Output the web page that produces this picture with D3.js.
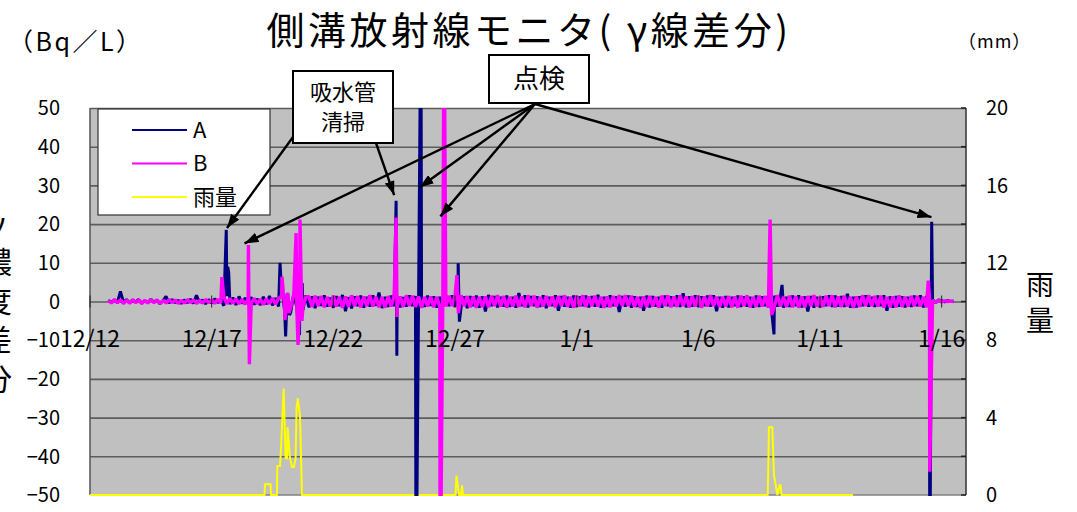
<!DOCTYPE html>
<html>
<head>
<meta charset="utf-8">
<script src="https://cdn.jsdelivr.net/npm/d3@7"></script>
<style>
  body { margin: 0; background: #fff; }
  svg text { font-family: "Noto Sans CJK JP", "Liberation Sans", sans-serif; fill: #000; }
</style>
</head>
<body>
<svg id="chart" width="1077" height="512"></svg>
<script>
// time in days from 12/12 00:00, readings every 3 hours from 12/12 18:00
var startDay = 0.75;
var stepDay = 0.125;

var valuesA = [
  0.3, -0.2,
  0.4, -0.3, 2.6, -0.2, 0.5, -0.4, 0.3, -0.1,
  0.5, -0.5, 0.2, -0.3, 0.6, -0.2, 0.4, -0.6,
  0.2, 1.3, -0.4, 0.5, -0.3, 0.3, -0.5, 0.4,
  -0.3, 0.6, -0.5, 1.6, -0.2, 0.4, -0.6, 0.5,
  -0.4, 0.7, -0.3, 0.6, -1.1, 1.4, -0.7, 1.0,
  -0.9, 1.3, -0.5, 0.9, -0.6, 1.1, -0.8, 0.7,
  -0.9, 1.2, -0.7, 1.4, -1.0, 0.9, -1.3, 2.2,
  -2.6, 1.9, -2.8, 2.1, -1.6, 1.3, -2.2, 1.6,
  -1.5, 1.3, -1.7, 1.2, -1.1, 1.6, -1.3, 1.0,
  -1.6, 1.4, -1.2, 1.7, -2.5, 1.1, -1.8, 1.3,
  -1.2, 1.5, -1.6, 1.2, -1.3, 1.6, -1.1, 2.3,
  -1.7, 1.2, -1.4, 1.5, -1.2, 1.3, -1.5, 1.1,
  -1.3, 1.6, -1.2, 1.4, -1.5, 1.2, -1.4, 1.5,
  -1.1, 1.3, -1.6, 1.2, -1.3, 1.5, -1.2, 1.6,
  -1.4, 1.2, -1.5, 1.3, -1.7, 1.4, -1.2, 1.5,
  -1.6, 1.3, -2.6, 1.7, -1.2, 1.4, -1.5, 1.2,
  -1.3, 1.5, -1.4, 1.2, -1.6, 2.2, -1.2, 1.6,
  -1.5, 1.4, -1.2, 1.3, -1.4, 1.6, -1.7, 1.2,
  -1.2, 1.6, -2.4, 1.4, -1.3, 1.2, -1.6, 1.5,
  -1.4, 1.3, -1.2, 1.5, -1.5, 1.4, -1.3, 1.7,
  -1.6, 1.2, -1.4, 1.6, -1.2, 1.3, -2.7, 1.4,
  -1.3, 1.5, -1.6, 1.3, -1.4, 1.2, -2.4, 1.5,
  -1.5, 1.4, -1.3, 1.2, -1.6, 1.5, -1.2, 1.3,
  -1.2, 1.6, -1.4, 2.1, -1.5, 1.3, -1.3, 1.6,
  -1.4, 1.3, -1.2, 1.5, -1.3, 1.6, -2.5, 1.2,
  -1.6, 1.4, -1.5, 1.2, -1.2, 1.5, -1.4, 1.3,
  -1.3, 1.2, -1.6, 1.5, -1.4, 1.3, -1.2, 1.4,
  -1.8, 1.5, -1.3, 1.4, -1.6, 1.2, -1.4, 1.5,
  -1.2, 1.6, -1.5, 1.3, -2.6, 1.4, -1.6, 1.2,
  -1.5, 1.3, -1.2, 1.6, -1.4, 1.5, -1.3, 1.4,
  -1.4, 2.0, -1.6, 1.2, -1.5, 1.3, -1.2, 1.6,
  -1.3, 1.2, -1.4, 1.5, -1.2, 1.6, -2.4, 1.3,
  -1.6, 1.4, -1.3, 1.3, -1.5, 1.2, -1.4, 1.5,
  -1.2, 1.6, -1.5, 1.4, -1.3, 0.5, -0.3, 0.4,
  0.2, -0.1, 0.2, 0.0, 0.1
];

var valuesB = [
  0.3, -0.4,
  0.5, -0.3, 0.4, -0.5, 0.3, -0.4, 0.5, -0.3,
  0.4, -0.5, 0.3, -0.4, 0.5, -0.3, 0.4, -0.5,
  0.3, -0.4, 0.5, -0.3, 0.4, -0.5, 0.3, -0.4,
  0.5, -0.3, 0.4, -0.5, 0.3, -0.4, 0.5, -0.3,
  0.4, -0.5, 0.6, -0.4, 1.2, -0.6, 0.8, -0.5,
  0.7, -0.6, 0.5, -0.7, 0.6, -0.5, 0.8, -0.6,
  0.6, -0.8, 0.7, -0.6, 0.9, -0.7, 0.8, 1.5,
  -1.8, 2.2, -1.5, 1.8, -2.0, 1.6, -1.4, 1.2,
  1.3, -1.4, 1.5, -1.2, 1.4, -1.5, 1.2, -1.3,
  1.5, -1.3, 1.2, -1.6, 1.3, -1.4, 1.6, -1.2,
  1.4, -1.5, 1.3, -1.2, 1.6, -1.3, 1.2, -1.5,
  1.2, -1.6, 1.4, -1.3, 1.5, -1.2, 1.3, -1.4,
  1.6, -1.2, 1.5, -1.4, 1.3, -1.6, 1.2, -1.3,
  1.3, -1.5, 1.2, -1.4, 1.6, -1.3, 1.5, -1.2,
  1.5, -1.3, 1.6, -1.2, 1.4, -1.5, 1.3, -1.6,
  1.2, -1.4, 1.3, -1.5, 1.5, -1.2, 1.6, -1.3,
  1.4, -1.6, 1.2, -1.3, 1.5, -1.4, 1.3, -1.5,
  1.6, -1.2, 1.5, -1.6, 1.2, -1.3, 1.4, -1.2,
  1.3, -1.5, 1.4, -1.2, 1.6, -1.4, 1.2, -1.6,
  1.5, -1.3, 1.6, -1.4, 1.3, -1.2, 1.5, -1.3,
  1.2, -1.6, 1.3, -1.5, 1.4, -1.3, 1.6, -1.2,
  1.6, -1.2, 1.5, -1.4, 1.2, -1.6, 1.3, -1.4,
  1.4, -1.3, 1.2, -1.6, 1.5, -1.2, 1.6, -1.5,
  1.3, -1.4, 1.6, -1.2, 1.3, -1.5, 1.4, -1.3,
  1.5, -1.6, 1.3, -1.3, 1.6, -1.2, 1.2, -1.4,
  1.2, -1.3, 1.4, -1.5, 1.3, -1.6, 1.5, -1.2,
  1.6, -1.5, 1.2, -1.4, 1.5, -1.3, 1.4, -1.6,
  1.3, -1.2, 1.6, -1.3, 1.2, -1.4, 1.5, -1.5,
  1.4, -1.6, 1.3, -1.5, 1.4, -1.2, 1.6, -1.3,
  1.2, -1.4, 1.5, -1.2, 1.6, -1.5, 1.3, -1.4,
  1.5, -1.3, 1.2, -1.6, 1.3, -1.4, 1.6, -1.2,
  1.6, -1.2, 1.4, -1.3, 1.5, -1.6, 1.2, -1.5,
  1.3, -1.5, 1.6, -1.4, 1.2, -1.3, 1.4, -1.2,
  1.4, -1.3, 1.2, -1.5, 1.1, 0.3, -0.2, 0.3,
  -0.1, 0.2, 0.0, 0.1, 0.0
];

// sharp peaks between the regular readings: [day, value]
var spikesA = [
  [5.60, 18.5], [5.66, 9.0], [5.70, 7.5],
  [7.81, 10.0], [7.90, 3.0], [8.04, -9.0], [8.10, 2.0], [8.20, -3.5],
  [8.61, -8.7], [8.72, 4.8],
  [12.58, 26.0], [12.61, -14.0],
  [13.40, -80], [13.60, 80],
  [15.13, 9.9], [15.18, -5.2],
  [28.11, -8.5], [28.44, 4.3],
  [34.51, -80], [34.59, 20.6]
];
var spikesB = [
  [5.42, 6.3],
  [6.51, 14.6], [6.55, -16.2],
  [7.89, 6.4], [8.01, -4.8], [8.18, -3.0],
  [8.47, 17.7], [8.55, -11.2], [8.63, 21.2], [8.71, -5.0],
  [12.58, 21.7], [12.62, -4.0],
  [14.39, -80], [14.55, 80],
  [15.08, 6.8], [15.14, -3.0],
  [27.95, 21.2], [28.01, -3.5],
  [34.45, 5.4], [34.51, -44]
];

// rainfall (mm): [day, value]
var rain = [
  [0, 0], [7.17, 0], [7.19, 0.55], [7.42, 0.55], [7.44, 0],
  [7.68, 0], [7.70, 1.5], [7.81, 1.5], [7.85, 2.4], [7.96, 5.5], [8.04, 1.9],
  [8.10, 1.9], [8.12, 3.5], [8.22, 1.9], [8.30, 1.45], [8.38, 1.45], [8.45, 1.9],
  [8.49, 4.5], [8.54, 5.0], [8.63, 4.1], [8.71, 0],
  [15.02, 0], [15.06, 1.0], [15.17, 0], [15.25, 0], [15.29, 0.5], [15.33, 0],
  [27.85, 0], [27.88, 1.6], [27.90, 3.5], [28.04, 3.5], [28.11, 1.0], [28.25, 0],
  [28.34, 0.5], [28.38, 0.5], [28.42, 0], [31.36, 0]
];

var yTicksLeft = [50, 40, 30, 20, 10, 0, -10, -20, -30, -40, -50];
var yTicksRight = [0, 4, 8, 12, 16, 20];
var rightMinorTicks = [0, 2, 4, 6, 8, 10, 12, 14, 16, 18, 20];
var xTickDays = [0, 5, 10, 15, 20, 25, 30, 35];
var xTickLabels = ["12/12", "12/17", "12/22", "12/27", "1/1", "1/6", "1/11", "1/16"];
var legendNames = ["A", "B", "雨量"];

var margin = { left: 90, right: 966, top: 108, bottom: 495 };
var width = margin.right - margin.left;
var height = margin.bottom - margin.top;

var svg = d3.select("#chart");

var x = d3.scaleLinear().domain([0, 36]).range([margin.left, margin.right]);
var y = d3.scaleLinear().domain([-50, 50]).range([margin.bottom, margin.top]);
var yR = d3.scaleLinear().domain([0, 20]).range([margin.bottom, margin.top]);

function build(values, spikes) {
    var pts = values.map(function (v, i) { return [startDay + i * stepDay, v]; });
    return pts.concat(spikes).sort(function (a, b) { return a[0] - b[0]; });
}
var dataA = build(valuesA, spikesA);
var dataB = build(valuesB, spikesB);

// plot background
svg.append("rect")
    .attr("x", margin.left).attr("y", margin.top)
    .attr("width", width).attr("height", height)
    .attr("fill", "#c0c0c0");

// gridlines
svg.append("g")
    .attr("transform", "translate(" + margin.left + ",0)")
    .call(d3.axisLeft(y).tickValues(yTicksLeft.slice(0, 10)).tickSize(-width).tickFormat(""))
    .call(function (g) { g.select(".domain").remove(); })
    .selectAll("line").attr("stroke", "#5c5c5c").attr("stroke-width", 1.6);

svg.append("line")
    .attr("x1", margin.left).attr("x2", margin.right)
    .attr("y1", margin.bottom).attr("y2", margin.bottom)
    .attr("stroke", "#808080").attr("stroke-width", 1.5);

// left axis
svg.append("line")
    .attr("x1", margin.left).attr("x2", margin.left)
    .attr("y1", margin.top).attr("y2", margin.bottom)
    .attr("stroke", "#555").attr("stroke-width", 1.5);

svg.append("g").selectAll("text")
    .data(yTicksLeft).join("text")
    .attr("x", 60).attr("y", function (d) { return y(d); })
    .attr("dy", "0.36em")
    .attr("text-anchor", "end")
    .style("font-size", "20px")
    .text(function (d) { return d3.format("")(d); });

// right axis
svg.append("line")
    .attr("x1", margin.right).attr("x2", margin.right)
    .attr("y1", margin.top).attr("y2", margin.bottom)
    .attr("stroke", "#333").attr("stroke-width", 1.5);
svg.append("g").selectAll("line")
    .data(rightMinorTicks).join("line")
    .attr("x1", margin.right - 5).attr("x2", margin.right)
    .attr("y1", function (d) { return yR(d); }).attr("y2", function (d) { return yR(d); })
    .attr("stroke", "#222").attr("stroke-width", 1.5);
svg.append("g").selectAll("text")
    .data(yTicksRight).join("text")
    .attr("x", 986).attr("y", function (d) { return yR(d); })
    .attr("dy", "0.36em")
    .style("font-size", "20px")
    .text(function (d) { return d; });

// series
svg.append("clipPath").attr("id", "plotclip")
    .append("rect")
    .attr("x", margin.left).attr("y", margin.top)
    .attr("width", width).attr("height", height + 1);

var line = d3.line().x(function (d) { return x(d[0]); }).y(function (d) { return y(d[1]); });
var rainLine = d3.line().x(function (d) { return x(d[0]); }).y(function (d) { return yR(d[1]); });

var plot = svg.append("g").attr("clip-path", "url(#plotclip)");
plot.append("path").datum(rain)
    .attr("d", rainLine).attr("fill", "none")
    .attr("stroke", "#ffff00").attr("stroke-width", 2);
plot.append("path").datum(dataA)
    .attr("d", line).attr("fill", "none")
    .attr("stroke", "#000080").attr("stroke-width", 3).attr("stroke-linejoin", "bevel");
plot.append("path").datum(dataB)
    .attr("d", line).attr("fill", "none")
    .attr("stroke", "#ff00ff").attr("stroke-width", 3.4).attr("stroke-linejoin", "bevel");

// category axis through zero
svg.append("g").selectAll("line")
    .data(xTickDays).join("line")
    .attr("x1", function (d) { return x(d); }).attr("x2", function (d) { return x(d); })
    .attr("y1", y(0) - 6).attr("y2", y(0) + 6)
    .attr("stroke", "#222").attr("stroke-width", 1);
svg.append("g").selectAll("text")
    .data(xTickDays).join("text")
    .attr("x", function (d) { return x(d); }).attr("y", 347)
    .attr("text-anchor", "middle")
    .style("font-size", "23px")
    .text(function (d, i) { return xTickLabels[i]; });

// legend
var legend = svg.append("g");
legend.append("rect")
    .attr("x", 98).attr("y", 109).attr("width", 172).attr("height", 106)
    .attr("fill", "#fff").attr("stroke", "#333").attr("stroke-width", 1.2);
var legendColors = ["#000080", "#ff00ff", "#ffff00"];
legendNames.forEach(function (name, i) {
    var ly = 130 + i * 33.5;
    legend.append("line")
        .attr("x1", 132).attr("x2", 187).attr("y1", ly).attr("y2", ly)
        .attr("stroke", legendColors[i]).attr("stroke-width", 2.2);
    legend.append("text")
        .attr("x", 193).attr("y", ly).attr("dy", "0.36em")
        .style("font-size", "22px")
        .text(name);
});

// callouts
svg.append("defs").append("marker")
    .attr("id", "arrow")
    .attr("markerUnits", "userSpaceOnUse")
    .attr("viewBox", "0 0 14 10")
    .attr("refX", 14).attr("refY", 5)
    .attr("markerWidth", 14).attr("markerHeight", 10)
    .attr("orient", "auto")
    .append("path").attr("d", "M0,0 L14,5 L0,10 Z").attr("fill", "#000");

var arrows = [
    { from: [293, 137], to: [5.63, 19] },
    { from: [376, 143], to: [12.5, 27.5] },
    { from: [535, 104], to: [6.35, 15] },
    { from: [535, 104], to: [13.55, 29.5] },
    { from: [535, 104], to: [14.4, 22] },
    { from: [535, 104], to: [34.58, 21.8] }
];
svg.append("g").selectAll("line")
    .data(arrows).join("line")
    .attr("x1", function (d) { return d.from[0]; }).attr("y1", function (d) { return d.from[1]; })
    .attr("x2", function (d) { return x(d.to[0]); }).attr("y2", function (d) { return y(d.to[1]); })
    .attr("stroke", "#000").attr("stroke-width", 2.4)
    .attr("marker-end", "url(#arrow)");

svg.append("rect")
    .attr("x", 293).attr("y", 71).attr("width", 100).attr("height", 72)
    .attr("fill", "#fff").attr("stroke", "#000").attr("stroke-width", 2);
svg.append("text").attr("x", 343).attr("y", 92).attr("dy", "0.36em")
    .attr("text-anchor", "middle").style("font-size", "22px").text("吸水管");
svg.append("text").attr("x", 343).attr("y", 122).attr("dy", "0.36em")
    .attr("text-anchor", "middle").style("font-size", "22px").text("清掃");

svg.append("rect")
    .attr("x", 489).attr("y", 55).attr("width", 100).attr("height", 48)
    .attr("fill", "#fff").attr("stroke", "#000").attr("stroke-width", 2);
svg.append("text").attr("x", 539).attr("y", 79).attr("dy", "0.36em")
    .attr("text-anchor", "middle").style("font-size", "26px").text("点検");

// titles
svg.append("text")
    .attr("x", 529).attr("y", 44)
    .attr("text-anchor", "middle")
    .style("font-size", "38px")
    .style("letter-spacing", "3.5px")
    .text("側溝放射線モニタ( γ線差分)");

svg.append("text")
    .attr("x", 8).attr("y", 51)
    .style("font-size", "25px")
    .style("letter-spacing", "2.5px")
    .text("（Bq／L）");

svg.append("text")
    .attr("x", 958).attr("y", 48)
    .style("font-size", "18px")
    .style("letter-spacing", "1px")
    .text("（mm）");

var leftLabel = ["γ", "濃", "度", "差", "分"];
svg.append("g").selectAll("text")
    .data(leftLabel).join("text")
    .attr("x", -3).attr("y", function (d, i) { return 223 + i * 39; })
    .attr("dy", "0.36em").attr("text-anchor", "middle")
    .style("font-size", "30px")
    .text(function (d) { return d; });

var rightLabel = ["雨", "量"];
svg.append("g").selectAll("text")
    .data(rightLabel).join("text")
    .attr("x", 1040).attr("y", function (d, i) { return 285 + i * 36; })
    .attr("dy", "0.36em").attr("text-anchor", "middle")
    .style("font-size", "28px")
    .text(function (d) { return d; });
</script>
</body>
</html>
